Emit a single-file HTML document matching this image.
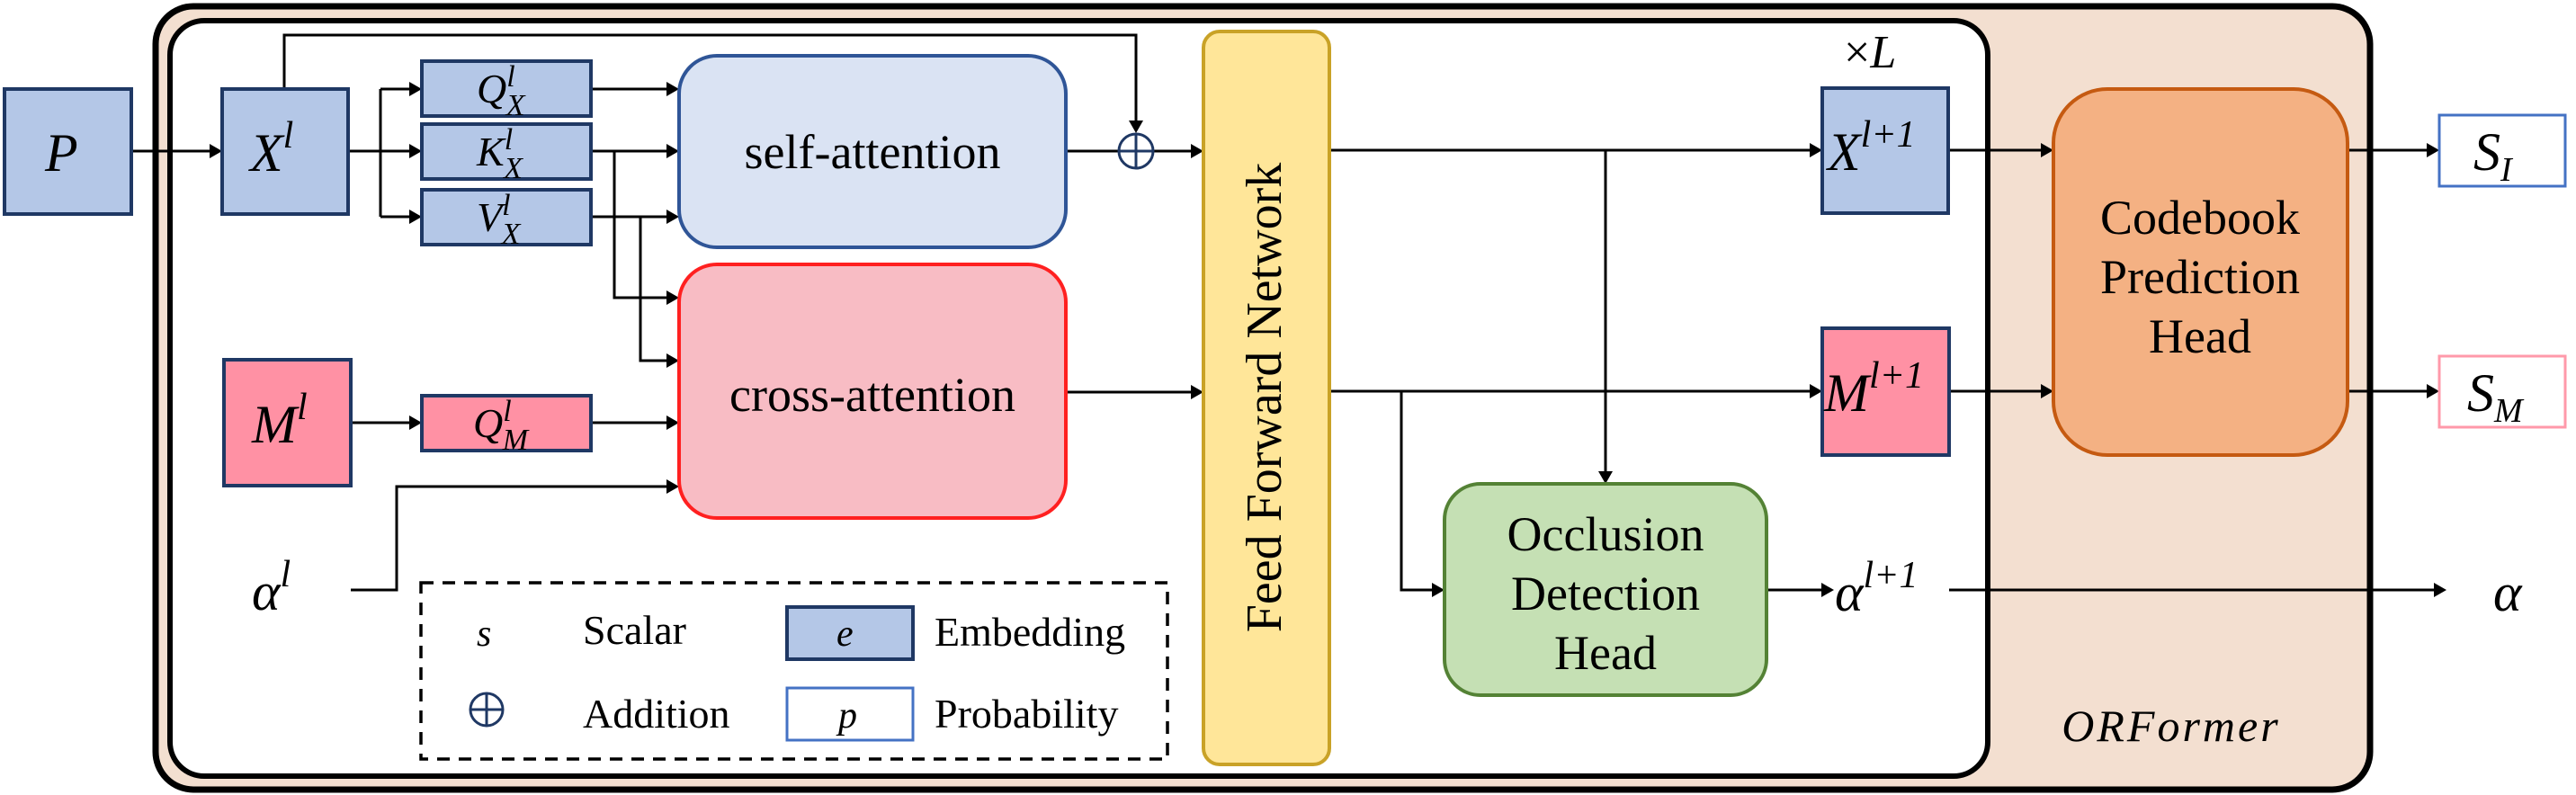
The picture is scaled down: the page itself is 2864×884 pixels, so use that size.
<!DOCTYPE html>
<html><head><meta charset="utf-8"><style>
html,body{margin:0;padding:0;background:#fff;width:2864px;height:884px;overflow:hidden}
svg{display:block}
.m{font-family:"Liberation Serif",serif;font-style:italic;fill:#000}
.t{font-family:"Liberation Serif",serif;fill:#000}
</style></head><body>
<svg width="2864" height="884" viewBox="0 0 2864 884" xmlns="http://www.w3.org/2000/svg">
<rect x="173" y="7" width="2462" height="871" rx="42" fill="#f3dfd0" stroke="#000" stroke-width="7"/>
<rect x="189" y="23" width="2021" height="840" rx="38" fill="#fff" stroke="#000" stroke-width="6"/>

<g stroke="#000" stroke-width="3" fill="none">
<line x1="146" y1="168" x2="233" y2="168"/>
<polyline points="316,99 316,39 1263,39 1263,134"/>
<line x1="387" y1="168" x2="455" y2="168"/>
<line x1="423" y1="99" x2="423" y2="241"/>
<line x1="423" y1="99" x2="455" y2="99"/>
<line x1="423" y1="241" x2="455" y2="241"/>
<line x1="657" y1="99" x2="741" y2="99"/>
<line x1="657" y1="168" x2="741" y2="168"/>
<line x1="657" y1="241" x2="741" y2="241"/>
<polyline points="683,168 683,331 741,331"/>
<polyline points="712,241 712,401 741,401"/>
<line x1="390" y1="470" x2="455" y2="470"/>
<line x1="657" y1="470" x2="741" y2="470"/>
<polyline points="390,656 441,656 441,541 741,541"/>
<line x1="1185" y1="168" x2="1243" y2="168"/>
<line x1="1283" y1="168" x2="1324" y2="168"/>
<line x1="1185" y1="436" x2="1324" y2="436"/>
<line x1="1478" y1="167" x2="2012" y2="167"/>
<line x1="1785" y1="167" x2="1785" y2="524"/>
<line x1="1478" y1="435" x2="2012" y2="435"/>
<polyline points="1558,435 1558,656 1592,656"/>
<line x1="1964" y1="656" x2="2025" y2="656"/>
<line x1="2167" y1="656" x2="2706" y2="656"/>
<line x1="2166" y1="167" x2="2269" y2="167"/>
<line x1="2166" y1="435" x2="2269" y2="435"/>
<line x1="2610" y1="167" x2="2698" y2="167"/>
<line x1="2610" y1="435" x2="2698" y2="435"/>
</g>
<g fill="#000">
<polygon points="247,168 233,160 233,176"/>
<polygon points="1263,148 1255,134 1271,134"/>
<polygon points="469,168 455,160 455,176"/>
<polygon points="469,99 455,91 455,107"/>
<polygon points="469,241 455,233 455,249"/>
<polygon points="755,99 741,91 741,107"/>
<polygon points="755,168 741,160 741,176"/>
<polygon points="755,241 741,233 741,249"/>
<polygon points="755,331 741,323 741,339"/>
<polygon points="755,401 741,393 741,409"/>
<polygon points="469,470 455,462 455,478"/>
<polygon points="755,470 741,462 741,478"/>
<polygon points="755,541 741,533 741,549"/>
<polygon points="1338,168 1324,160 1324,176"/>
<polygon points="1338,436 1324,428 1324,444"/>
<polygon points="2026,167 2012,159 2012,175"/>
<polygon points="2026,435 2012,427 2012,443"/>
<polygon points="1785,538 1777,524 1793,524"/>
<polygon points="1606,656 1592,648 1592,664"/>
<polygon points="2039,656 2025,648 2025,664"/>
<polygon points="2720,656 2706,648 2706,664"/>
<polygon points="2283,167 2269,159 2269,175"/>
<polygon points="2283,435 2269,427 2269,443"/>
<polygon points="2712,167 2698,159 2698,175"/>
<polygon points="2712,435 2698,427 2698,443"/>
</g>
<circle cx="1263" cy="168" r="19" fill="#fff" stroke="#1f3864" stroke-width="3"/>
<line x1="1244" y1="168" x2="1282" y2="168" stroke="#1f3864" stroke-width="3"/>
<line x1="1263" y1="149" x2="1263" y2="187" stroke="#1f3864" stroke-width="3"/>

<g stroke="#1f3864" stroke-width="4" fill="#b4c7e7">
<rect x="5" y="99" width="141" height="139"/>
<rect x="247" y="99" width="140" height="139"/>
<rect x="469" y="68" width="188" height="61"/>
<rect x="469" y="138" width="188" height="61"/>
<rect x="469" y="211" width="188" height="61"/>
<rect x="2026" y="98" width="140" height="139"/>
<rect x="875" y="675" width="140" height="58"/>
</g>
<g stroke="#1f3864" stroke-width="4" fill="#ff91a4">
<rect x="249" y="400" width="141" height="140"/>
<rect x="469" y="440" width="188" height="61"/>
<rect x="2026" y="365" width="141" height="141"/>
</g>
<rect x="755" y="62" width="430" height="213" rx="42" fill="#dae3f3" stroke="#2f5597" stroke-width="4"/>
<rect x="755" y="294" width="430" height="282" rx="42" fill="#f8bcc4" stroke="#ff2020" stroke-width="4"/>
<rect x="1338" y="35" width="140" height="815" rx="18" fill="#ffe699" stroke="#c9a227" stroke-width="4"/>
<rect x="1606" y="538" width="358" height="235" rx="40" fill="#c5e0b4" stroke="#548235" stroke-width="4"/>
<rect x="2283" y="99" width="327" height="407" rx="60" fill="#f4b183" stroke="#c55a11" stroke-width="4"/>
<rect x="2712" y="128" width="140" height="79" fill="#fff" stroke="#4472c4" stroke-width="3"/>
<rect x="2712" y="396" width="140" height="79" fill="#fff" stroke="#ff99aa" stroke-width="3"/>
<rect x="468" y="648" width="830" height="196" fill="none" stroke="#000" stroke-width="3.5" stroke-dasharray="14,10"/>
<rect x="875" y="765" width="140" height="58" fill="#fff" stroke="#4472c4" stroke-width="3"/>
<circle cx="541" cy="789" r="18" fill="none" stroke="#1f3864" stroke-width="3"/>
<line x1="523" y1="789" x2="559" y2="789" stroke="#1f3864" stroke-width="3"/>
<line x1="541" y1="771" x2="541" y2="807" stroke="#1f3864" stroke-width="3"/>

<g class="m" font-size="60">
<text x="50" y="190">P</text>
<text x="278" y="190">X<tspan font-size="42" dy="-26">l</tspan></text>
<text x="280" y="492">M<tspan font-size="42" dy="-26">l</tspan></text>
<text x="280" y="678">α<tspan font-size="42" dy="-26">l</tspan></text>
<text x="2032" y="189">X<tspan font-size="42" dy="-26">l+1</tspan></text>
<text x="2028" y="457">M<tspan font-size="42" dy="-26">l+1</tspan></text>
<text x="2040" y="679">α<tspan font-size="42" dy="-26">l+1</tspan></text>
<text x="2772" y="679">α</text>
<text x="2750" y="189">S<tspan font-size="38" dy="12">I</tspan></text>
<text x="2743" y="457">S<tspan font-size="38" dy="12">M</tspan></text>
</g>
<g class="m" font-size="46">
<text x="530" y="114">Q<tspan font-size="34" dy="-18">l</tspan><tspan font-size="34" dx="-10" dy="32">X</tspan></text>
<text x="530" y="184">K<tspan font-size="34" dy="-18">l</tspan><tspan font-size="34" dx="-10" dy="32">X</tspan></text>
<text x="530" y="257">V<tspan font-size="34" dy="-18">l</tspan><tspan font-size="34" dx="-10" dy="32">X</tspan></text>
<text x="526" y="486">Q<tspan font-size="34" dy="-18">l</tspan><tspan font-size="34" dx="-10" dy="32">M</tspan></text>
<text x="530" y="718" font-size="42">s</text>
<text x="930" y="718" font-size="42">e</text>
<text x="932" y="809" font-size="42">p</text>
</g>
<text class="t" x="2050" y="75" font-size="52">×<tspan font-style="italic">L</tspan></text>
<text class="m" x="2414" y="824" font-size="50" text-anchor="middle" letter-spacing="3">ORFormer</text>
<g class="t" font-size="46">
<text x="648" y="716">Scalar</text>
<text x="648" y="809">Addition</text>
<text x="1039" y="718">Embedding</text>
<text x="1039" y="809">Probability</text>
</g>
<g class="t" font-size="54" text-anchor="middle">
<text x="970" y="187">self-attention</text>
<text x="970" y="457">cross-attention</text>
<text x="1785" y="612">Occlusion</text>
<text x="1785" y="678">Detection</text>
<text x="1785" y="744">Head</text>
<text x="2446" y="260">Codebook</text>
<text x="2446" y="326">Prediction</text>
<text x="2446" y="392">Head</text>
<text transform="translate(1424,442) rotate(-90)" font-size="56">Feed Forward Network</text>
</g>
</svg>
</body></html>
